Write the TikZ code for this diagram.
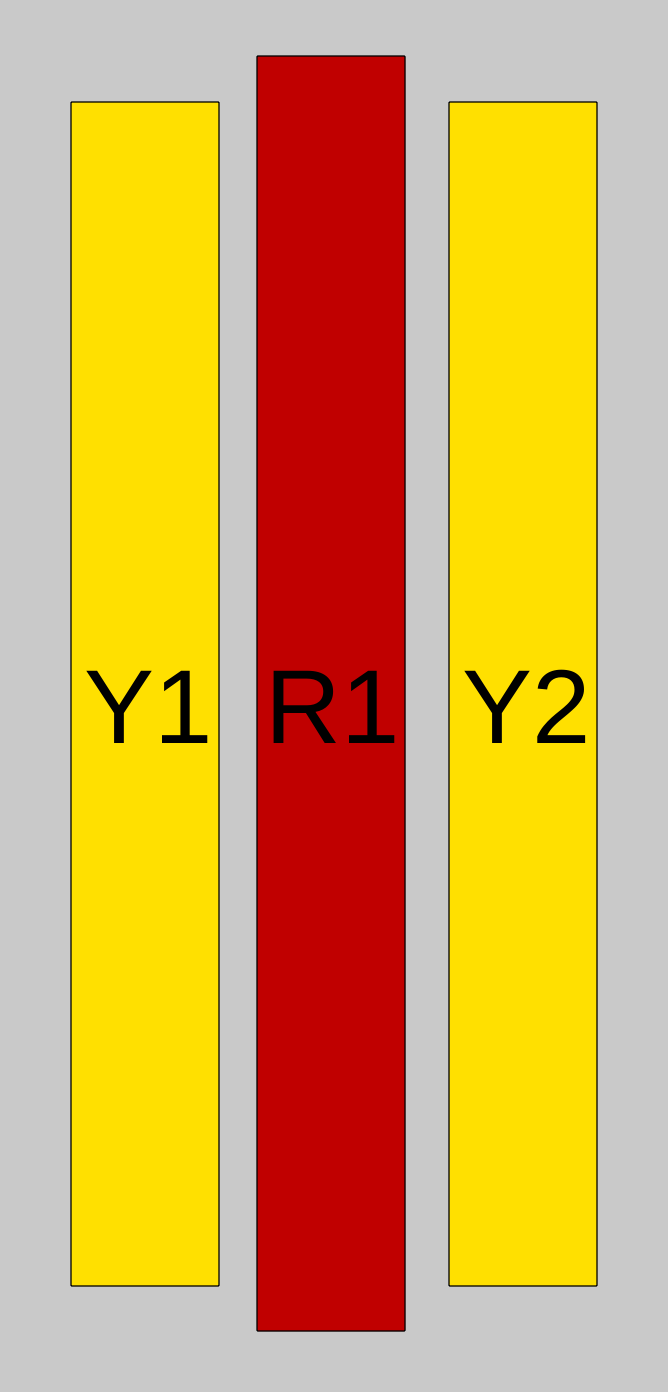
\documentclass[tikz,border=0pt]{standalone}
\usepackage{fontspec}
\setmainfont{Liberation Sans}
\definecolor{bg}{HTML}{C9C9C9}
\definecolor{ylw}{HTML}{FFE000}
\definecolor{rd}{HTML}{C00000}
\tikzset{
  bar/.style={draw=black, line width=1.3pt, rounded corners=0.8pt},
  lbl/.style={anchor=base, font=\fontsize{105}{105}\selectfont, inner sep=0pt}
}
\begin{document}
\begin{tikzpicture}[x=1pt,y=-1pt]
\fill[bg] (0,0) rectangle (668,1392);
\useasboundingbox (0,0) rectangle (668,1392);
\draw[bar, fill=ylw] (71,102) rectangle (219,1286);
\draw[bar, fill=rd] (257,56) rectangle (405,1331);
\draw[bar, fill=ylw] (449,102) rectangle (597,1286);
\node[lbl] (y1) at (149,743) {Y1};
\node[lbl] (r1) at (333,743) {R1};
\node[lbl] (y2) at (527,743) {Y2};
\end{tikzpicture}
\end{document}
